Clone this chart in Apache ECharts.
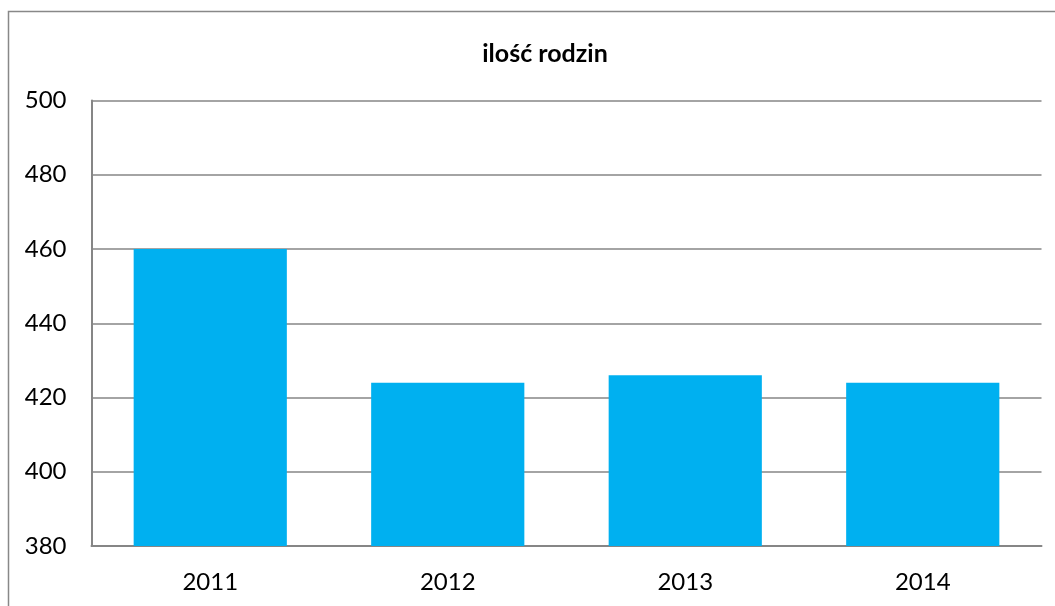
<!DOCTYPE html>
<html>
<head>
<meta charset="utf-8">
<script src="https://cdn.jsdelivr.net/npm/echarts@6/dist/echarts.min.js"></script>
<style>
  html, body { margin: 0; padding: 0; background: #fff; }
  #chart { width: 1055px; height: 606px; }
</style>
</head>
<body>
<div id="chart"></div>
<script>
// dane
var years  = ['2011', '2012', '2013', '2014']
var counts = [460, 424, 426, 424]
var yTicks = { min: 380, max: 500, step: 20 }

var chart = echarts.init(document.getElementById('chart'), null, { renderer: 'canvas' })
var font = "Lato, 'Open Sans', sans-serif"

chart.setOption({
    animation: false,
    graphic: [{
        type: 'rect',
        shape: { x: 8.5, y: 11.5, width: 1200, height: 800 },
        style: { fill: 'none', stroke: '#888888', lineWidth: 1.5 },
        silent: true
    }],
    title: {
        text: 'ilość rodzin',
        left: 540, top: 36, textAlign: 'center',
        textStyle: { fontFamily: font, fontSize: 25, fontWeight: 'bold', color: '#000' }
    },
    grid: { left: 91.5, right: 13.5, top: 100.5, bottom: 60, containLabel: false },
    xAxis: {
        type: 'category',
        data: years,
        axisLine: { lineStyle: { color: '#868686', width: 2 } },
        axisTick: { show: false },
        axisLabel: { color: '#000', fontFamily: font, fontSize: 24, margin: 24 }
    },
    yAxis: {
        type: 'value',
        min: yTicks.min, max: yTicks.max, interval: yTicks.step,
        axisLine: { show: true, lineStyle: { color: '#868686', width: 2 } },
        axisTick: { show: false },
        splitLine: { lineStyle: { color: '#868686', width: 1.5 } },
        axisLabel: { color: '#000', fontFamily: font, fontSize: 24, margin: 25 }
    },
    series: [{
        type: 'bar',
        data: counts,
        barCategoryGap: '35.5%',
        itemStyle: { color: '#00B0F0' }
    }]
})
</script>
</body>
</html>
